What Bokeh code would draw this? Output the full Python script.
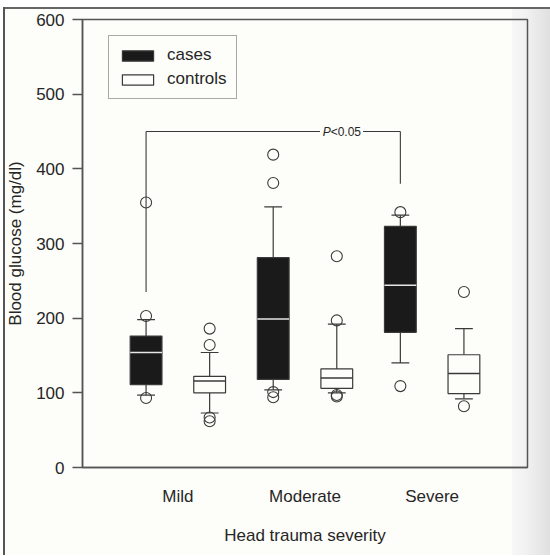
from bokeh.plotting import figure
from bokeh.models import Range1d, FixedTicker, Legend, LegendItem
from bokeh.core.properties import value
from bokeh.embed import file_html
from bokeh.resources import INLINE

# ---------------- data ----------------
categories = ["Mild", "Moderate", "Severe"]

cases_q1 = [111, 118, 181]
cases_median = [154, 199, 244]
cases_q3 = [176, 281, 323]
cases_lower = [97, 104, 140]
cases_upper = [198, 349, 338]
cases_outliers = [[355, 203, 93], [419, 381, 101, 94], [342, 109]]

controls_q1 = [100, 106, 99]
controls_median = [116, 120, 126]
controls_q3 = [122, 132, 151]
controls_lower = [73, 100, 92]
controls_upper = [154, 192, 186]
controls_outliers = [[186, 164, 67, 62], [283, 197, 97, 95], [235, 82]]

y_ticks = [0, 100, 200, 300, 400, 500, 600]

# significance bracket between Mild and Severe cases
bracket_y = 450
bracket_left_bottom = 235
bracket_right_bottom = 380
bracket_label = "P<0.05"

# ---------------- layout helpers ----------------
case_x = [i + 1 for i in range(len(categories))]
ctrl_x = [i + 1.5 for i in range(len(categories))]
label_x = [i + 1.25 for i in range(len(categories))]
BOX_W = 0.25
CAP_W = 0.14
INK = "#3a3a3a"
TXT = "#262626"
FONT = "Liberation Sans"

p = figure(width=547, height=548, x_range=Range1d(0.5, 4.0), y_range=Range1d(0, 600),
           output_backend="svg", toolbar_location=None, title=None,
           min_border_left=78, min_border_right=23, min_border_top=12, min_border_bottom=88)

p.background_fill_alpha = 0
p.border_fill_alpha = 0
p.styles = {
    "margin-left": "3px",
    "margin-top": "7px",
    "background": ("linear-gradient(#555,#555) left top / 2px 100% no-repeat, "
                   "linear-gradient(#666,#666) left top / 100% 2px no-repeat, "
                   "linear-gradient(to right, #fdfdf9 0px, #fdfdf9 509px, #f7f7f7 509px, "
                   "#f2f2f2 522px, #e0e0e0 547px)"),
}
p.outline_line_color = "#555555"
p.outline_line_width = 1.5
p.grid.visible = False


def draw_group(xs, q1, med, q3, lo, hi, outs, fill, med_color):
    # whiskers
    p.segment(x0=xs, y0=q3, x1=xs, y1=hi, line_color=INK, line_width=1.2)
    p.segment(x0=xs, y0=q1, x1=xs, y1=lo, line_color=INK, line_width=1.2)
    # caps
    p.segment(x0=[x - CAP_W / 2 for x in xs], y0=hi, x1=[x + CAP_W / 2 for x in xs], y1=hi,
              line_color=INK, line_width=1.2)
    p.segment(x0=[x - CAP_W / 2 for x in xs], y0=lo, x1=[x + CAP_W / 2 for x in xs], y1=lo,
              line_color=INK, line_width=1.2)
    # boxes
    r = p.vbar(x=xs, width=BOX_W, bottom=q1, top=q3, fill_color=fill,
               line_color=INK, line_width=1.2)
    # medians
    p.segment(x0=[x - BOX_W / 2 for x in xs], y0=med, x1=[x + BOX_W / 2 for x in xs], y1=med,
              line_color=med_color, line_width=1.5)
    # outliers
    ox, oy = [], []
    for x, vals in zip(xs, outs):
        for v in vals:
            ox.append(x)
            oy.append(v)
    p.scatter(x=ox, y=oy, size=11, marker="circle", fill_alpha=0,
              line_color=INK, line_width=1.1)
    return r


# bracket (drawn first, under the boxes)
p.segment(x0=[case_x[0], 2.706], y0=[bracket_y, bracket_y], x1=[2.368, case_x[2]], y1=[bracket_y, bracket_y],
          line_color=INK, line_width=1.1)
p.segment(x0=[case_x[0], case_x[2]], y0=[bracket_y, bracket_y],
          x1=[case_x[0], case_x[2]], y1=[bracket_left_bottom, bracket_right_bottom],
          line_color=INK, line_width=1.1)
p.text(x=[2.389], y=[bracket_y], text=[bracket_label[0]], text_font=value(FONT),
       text_font_style="italic", text_font_size="12px", text_color=TXT,
       text_baseline="middle", text_align="left")
p.text(x=[2.389], y=[bracket_y], text=[bracket_label[1:]], text_font=value(FONT),
       text_font_size="12px", text_color=TXT, x_offset=8,
       text_baseline="middle", text_align="left")

r_cases = draw_group(case_x, cases_q1, cases_median, cases_q3, cases_lower, cases_upper,
                     cases_outliers, "#1a1a1a", "#e6e6e6")
r_ctrl = draw_group(ctrl_x, controls_q1, controls_median, controls_q3, controls_lower,
                    controls_upper, controls_outliers, "#fdfdf9", INK)

# ---------------- axes ----------------
for ax in p.axis:
    ax.axis_line_color = "#555555"
    ax.axis_line_width = 1.5
    ax.major_label_text_font = FONT
    ax.major_label_text_font_size = "17px"
    ax.major_label_text_color = TXT
    ax.axis_label_text_font = FONT
    ax.axis_label_text_font_size = "17px"
    ax.axis_label_text_font_style = "normal"
    ax.axis_label_text_color = TXT
    ax.minor_tick_line_color = None

p.yaxis.ticker = FixedTicker(ticks=y_ticks)
p.yaxis.major_tick_out = 10
p.yaxis.major_tick_in = 0
p.yaxis.major_tick_line_color = "#555555"
p.yaxis.major_tick_line_width = 1.5
p.yaxis.major_label_standoff = 8
p.yaxis.axis_label = "Blood glucose (mg/dl)"
p.yaxis.axis_label_standoff = 8

p.xaxis.ticker = FixedTicker(ticks=label_x)
p.xaxis.major_label_overrides = {x: c for x, c in zip(label_x, categories)}
p.xaxis.major_tick_line_color = None
p.xaxis.major_tick_out = 0
p.xaxis.major_tick_in = 0
p.xaxis.major_label_standoff = 19
p.xaxis.axis_label = "Head trauma severity"
p.xaxis.axis_label_standoff = 17

# ---------------- legend ----------------
legend = Legend(items=[LegendItem(label="cases", renderers=[r_cases]),
                       LegendItem(label="controls", renderers=[r_ctrl])],
                location=(26, 368))
legend.glyph_width = 39
legend.glyph_height = 13
legend.label_standoff = 10
legend.padding = 9
legend.spacing = 4
legend.margin = 0
legend.border_line_color = "#555555"
legend.border_line_width = 1.5
legend.background_fill_alpha = 0
legend.label_text_font = FONT
legend.label_text_font_size = "17px"
legend.label_text_color = TXT
p.add_layout(legend)

open("out.html", "w").write(file_html(p, INLINE))
